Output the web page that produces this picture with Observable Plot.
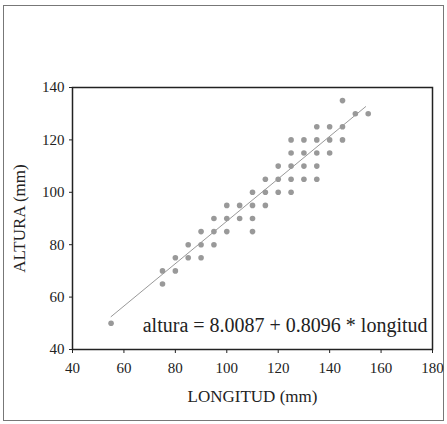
<!DOCTYPE html>
<html>
<head>
<meta charset="utf-8">
<script src="https://cdn.jsdelivr.net/npm/d3@7"></script>
<script src="https://cdn.jsdelivr.net/npm/@observablehq/plot@0.6"></script>
<style>
  html, body { margin: 0; padding: 0; background: #fff; }
  #wrap { position: relative; width: 447px; height: 424px; }
  #border { position: absolute; left: 3px; top: 5px; width: 439px; height: 414px;
            border: 1.5px solid #777; pointer-events: none; }
</style>
</head>
<body>
<div id="wrap"><div id="border"></div></div>
<script>
// Observed data (LONGITUD mm, ALTURA mm)
const longitud = [145, 150, 155, 135, 140, 145, 125, 130, 135, 140, 145,
                  125, 130, 135, 140, 120, 125, 130, 135, 115, 120, 125, 130, 135,
                  110, 115, 120, 125, 100, 105, 110, 115, 95, 100, 105, 110,
                  90, 95, 100, 110, 85, 90, 95, 80, 85, 90, 75, 80, 75, 55];
const altura   = [135, 130, 130, 125, 125, 125, 120, 120, 120, 120, 120,
                  115, 115, 115, 115, 110, 110, 110, 110, 105, 105, 105, 105, 105,
                  100, 100, 100, 100, 95, 95, 95, 95, 90, 90, 90, 90,
                  85, 85, 85, 85, 80, 80, 80, 75, 75, 75, 70, 70, 65, 50];
// Regression model shown on the chart
const intercept = 8.0087;
const slope = 0.8096;
const lineRange = [55, 154];
const equation = "altura = 8.0087 + 0.8096 * longitud";
const xTicks = [40, 60, 80, 100, 120, 140, 160, 180];
const yTicks = [40, 60, 80, 100, 120, 140];
const xLabel = "LONGITUD (mm)";
const yLabel = "ALTURA (mm)";

const points = longitud.map((x, i) => ({x, y: altura[i]}));
const fit = lineRange.map(x => ({x, y: intercept + slope * x}));

const chart = Plot.plot({
  width: 447,
  height: 424,
  marginLeft: 72,
  marginRight: 15,
  marginTop: 87,
  marginBottom: 75,
  style: {fontFamily: "'Liberation Serif', 'Times New Roman', serif", fontSize: "15px", color: "#222", background: "transparent"},
  x: {domain: [40, 180]},
  y: {domain: [40, 140]},
  marks: [
    Plot.frame({stroke: "#222", strokeWidth: 1.5}),
    Plot.axisX({ticks: xTicks, tickSize: 4, tickPadding: 9, label: null, fontSize: 15, tickFormat: d => d}),
    Plot.axisY({ticks: yTicks, tickSize: 3, tickPadding: 5, label: null, fontSize: 15, tickFormat: d => d}),
    Plot.axisY({ticks: [], label: yLabel, labelAnchor: "center", labelArrow: "none", labelOffset: 60, fontSize: 17}),
    Plot.line(fit, {x: "x", y: "y", stroke: "#999", strokeWidth: 1}),
    Plot.dot(points, {x: "x", y: "y", r: 2.8, fill: "#999", stroke: "none"}),
    Plot.text([equation], {frameAnchor: "bottom-right", textAnchor: "end", dx: -5, dy: -18, fontSize: 20, fill: "#222"}),
    Plot.text([xLabel], {frameAnchor: "bottom", dy: 52, fontSize: 17, fill: "#222"})
  ]
});
document.getElementById("wrap").appendChild(chart);
chart.style.position = "absolute";
chart.style.left = "0";
chart.style.top = "0";
</script>
</body>
</html>
